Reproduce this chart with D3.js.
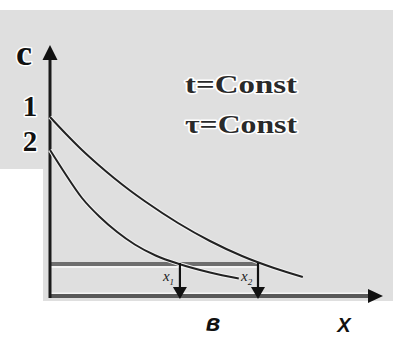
<!DOCTYPE html>
<html>
<head>
<meta charset="utf-8">
<script src="https://cdn.jsdelivr.net/npm/d3@7"></script>
<style>
  html, body { margin: 0; padding: 0; background: #fff; }
  svg { display: block; }
</style>
</head>
<body>
<svg id="chart" width="396" height="337"></svg>
<script>
// Concentration profiles c(x) for two cases, with a threshold level and penetration depths
const curve1X = [0, 0.5, 1, 1.5, 2, 2.5, 3, 4, 5, 6, 7, 7.9];
const curve1C = [7.16, 6.48, 5.84, 5.26, 4.72, 4.22, 3.76, 2.92, 2.2, 1.6, 1.12, 0.76];
const curve2X = [0, 0.4, 1.0, 1.55, 2.1, 2.65, 3.3, 4.06, 5.0, 5.9];
const curve2C = [5.84, 5.04, 3.92, 3.17, 2.56, 2.06, 1.62, 1.27, 0.94, 0.70];
const curveLabels = ["1", "2"];
const levelC = 1.28;
const depthX = [4.06, 6.5];
const depthLabels = ["1", "2"];
const conditions = ["t=Const", "\u03c4=Const"];
const axisLabelY = "c";
const axisLabelX = "X";
const captionLetter = "\u0432";

const svg = d3.select("#chart");
const x = d3.scaleLinear().domain([0, 10]).range([50, 370]);
const y = d3.scaleLinear().domain([0, 10]).range([296, 46]);

// panel background
const bg = d3.path();
bg.moveTo(0, 10); bg.lineTo(393, 10); bg.lineTo(393, 301);
bg.lineTo(43, 301); bg.lineTo(43, 169); bg.lineTo(0, 169); bg.closePath();
svg.append("path").attr("d", bg.toString()).attr("fill", "#dfdfdf");

const halo = sel => sel.attr("stroke", "#fff").attr("stroke-width", 3)
  .attr("paint-order", "stroke").attr("stroke-linejoin", "round");

// threshold level line
svg.append("line")
  .attr("x1", x(0)).attr("x2", x(depthX[1]) + 1)
  .attr("y1", y(levelC) + 2.5).attr("y2", y(levelC) + 2.5)
  .attr("stroke", "#f4f4f4").attr("stroke-width", 3);
svg.append("line")
  .attr("x1", x(0)).attr("x2", x(depthX[1]) + 1)
  .attr("y1", y(levelC)).attr("y2", y(levelC))
  .attr("stroke", "#6e6e6e").attr("stroke-width", 4);

// x axis
svg.append("line")
  .attr("x1", x(0)).attr("x2", 372)
  .attr("y1", y(0) - 2.5).attr("y2", y(0) - 2.5)
  .attr("stroke", "#f4f4f4").attr("stroke-width", 2);
svg.append("line")
  .attr("x1", x(0)).attr("x2", 372)
  .attr("y1", y(0)).attr("y2", y(0))
  .attr("stroke", "#585858").attr("stroke-width", 4);
svg.append("path")
  .attr("d", `M383,${y(0)} L368,${y(0) - 7} L368,${y(0) + 7} Z`)
  .attr("fill", "#111");

// y axis
svg.append("line")
  .attr("x1", x(0)).attr("x2", x(0))
  .attr("y1", y(0) + 2).attr("y2", 56)
  .attr("stroke", "#1a1a1a").attr("stroke-width", 3);
svg.append("path")
  .attr("d", `M${x(0)},45 L${x(0) - 7.5},60 L${x(0) + 7.5},60 Z`)
  .attr("fill", "#111");

// curves
const line = d3.line().x(d => x(d[0])).y(d => y(d[1])).curve(d3.curveMonotoneX);
[d3.zip(curve1X, curve1C), d3.zip(curve2X, curve2C)].forEach(pts => {
  svg.append("path").attr("d", line(pts))
    .attr("fill", "none").attr("stroke", "#f2f2f2").attr("stroke-width", 4);
  svg.append("path").attr("d", line(pts))
    .attr("fill", "none").attr("stroke", "#222").attr("stroke-width", 2);
});

// depth markers
depthX.forEach((dx, i) => {
  const px = x(dx);
  svg.append("line")
    .attr("x1", px).attr("x2", px)
    .attr("y1", y(levelC) - 1).attr("y2", 289)
    .attr("stroke", "#111").attr("stroke-width", 2.2);
  svg.append("path")
    .attr("d", `M${px},299 L${px - 7},287 L${px + 7},287 Z`)
    .attr("fill", "#111");
  const t = svg.append("text")
    .attr("x", px - 17).attr("y", 281)
    .attr("font-family", "Liberation Serif, serif")
    .attr("font-style", "italic").attr("font-size", 15)
    .attr("fill", "#222");
  t.append("tspan").text("x");
  t.append("tspan").attr("dy", 4).attr("font-size", 9).text(depthLabels[i]);
});

// curve labels on the c axis
svg.selectAll("text.cl").data(curveLabels).join("text")
  .attr("class", "cl")
  .attr("x", 30).attr("y", (d, i) => i === 0 ? 116 : 151)
  .attr("text-anchor", "middle")
  .attr("font-family", "Liberation Serif, serif").attr("font-weight", "bold")
  .attr("font-size", 29).attr("fill", "#111")
  .text(d => d).call(halo);

svg.append("text")
  .attr("x", 24).attr("y", 65).attr("text-anchor", "middle")
  .attr("font-family", "Liberation Serif, serif").attr("font-weight", "bold")
  .attr("font-size", 36).attr("fill", "#111")
  .text(axisLabelY).call(halo);

// condition notes
svg.selectAll("text.cond").data(conditions).join("text")
  .attr("class", "cond")
  .attr("x", 185).attr("y", (d, i) => 93 + i * 40)
  .attr("font-family", "Liberation Serif, serif").attr("font-weight", "bold")
  .attr("font-size", 26).attr("fill", "#2a2a2a")
  .attr("textLength", 112).attr("lengthAdjust", "spacingAndGlyphs")
  .text(d => d).call(halo);

// bottom captions
svg.append("text")
  .attr("x", 213).attr("y", 331).attr("text-anchor", "middle")
  .attr("font-family", "Liberation Sans, Arial, sans-serif")
  .attr("font-weight", "bold").attr("font-style", "italic")
  .attr("font-size", 24).attr("fill", "#111")
  .text(captionLetter);
svg.append("text")
  .attr("x", 344).attr("y", 332).attr("text-anchor", "middle")
  .attr("font-family", "Liberation Sans, Arial, sans-serif")
  .attr("font-weight", "bold").attr("font-style", "italic")
  .attr("font-size", 20).attr("fill", "#111")
  .text(axisLabelX);
</script>
</body>
</html>
